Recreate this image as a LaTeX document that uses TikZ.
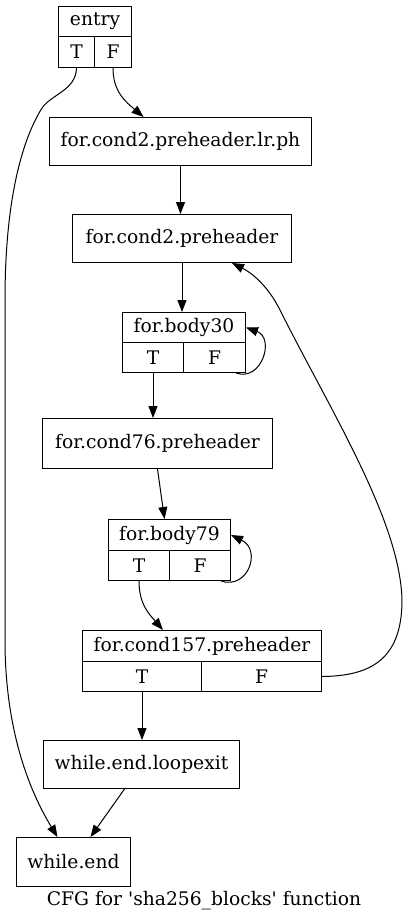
\documentclass[tikz,border=0pt]{standalone}
\usepackage{fontspec}
\setmainfont{DejaVu Serif}
\usetikzlibrary{arrows.meta,positioning}

\begin{document}
\begin{tikzpicture}[->,>={Triangle[length=12pt,width=9pt]},x=1pt,y=-1pt,line width=1pt,
		block/.style={draw,rectangle,inner sep=0pt,anchor=north west,font=\fontsize{18.7}{21}\selectfont,-},
		caption/.style={font=\fontsize{18.7}{21}\selectfont}]
		\useasboundingbox (0,0) rectangle (408,923);
		% blocks
		\node[block,minimum width=73pt,minimum height=30pt] (entry) at (58,6) {entry};
		\node[block,minimum width=36pt,minimum height=31pt] (entryT) at (58,36) {T};
		\node[block,minimum width=37pt,minimum height=31pt] (entryF) at (94,36) {F};
		\node[block,minimum width=262pt,minimum height=48pt] (lrph) at (49,117) {for.cond2.preheader.lr.ph};
		\node[block,minimum width=219pt,minimum height=48pt] (cond2) at (72,214) {for.cond2.preheader};
		\node[block,minimum width=123pt,minimum height=30pt] (body30) at (122,312) {for.body30};
		\node[block,minimum width=61pt,minimum height=30pt] (body30T) at (122,342) {T};
		\node[block,minimum width=62pt,minimum height=30pt] (body30F) at (183,342) {F};
		\node[block,minimum width=230pt,minimum height=50pt] (cond76) at (42,418) {for.cond76.preheader};
		\node[block,minimum width=122pt,minimum height=31pt] (body79) at (108,519) {for.body79};
		\node[block,minimum width=61pt,minimum height=30pt] (body79T) at (108,550) {T};
		\node[block,minimum width=61pt,minimum height=30pt] (body79F) at (169,550) {F};
		\node[block,minimum width=239pt,minimum height=31pt] (cond157) at (82,630) {for.cond157.preheader};
		\node[block,minimum width=119pt,minimum height=30pt] (cond157T) at (82,661) {T};
		\node[block,minimum width=120pt,minimum height=30pt] (cond157F) at (201,661) {F};
		\node[block,minimum width=196pt,minimum height=48pt] (loopexit) at (43,740) {while.end.loopexit};
		\node[block,minimum width=114pt,minimum height=49pt] (wend) at (16,837) {while.end};
		\node[caption] (title) at (204,901) {CFG for \textquotesingle sha256\_blocks\textquotesingle{} function};
		% edges
		\draw (entryT.south) .. controls (76,90) and (52,94) .. (42,108)
			.. controls (22,140) and (5,200) .. (5,300) -- (5,640)
			.. controls (5,740) and (35,800) .. ([xshift=-16pt]wend.north);
		\draw (entryF.south) .. controls (113,92) and (126,102) .. ([xshift=-37pt]lrph.north);
		\draw (lrph.south) -- (lrph.south |- cond2.north);
		\draw (cond2.south) -- (cond2.south |- body30.north);
		\draw ([xshift=-10pt]body30F.south east) .. controls (262,382) and (275,338) .. (body30.east);
		\draw (body30T.south) -- (body30T.south |- cond76.north);
		\draw (cond76.south) -- ([xshift=-5pt]body79.north);
		\draw ([xshift=-10pt]body79F.south east) .. controls (248,590) and (262,550) .. (body79.east);
		\draw (body79T.south) .. controls (139,605) and (150,615) .. ([xshift=-39pt]cond157.north);
		\draw (cond157T.south) -- (cond157T.south |- loopexit.north);
		\draw (cond157F.east) .. controls (370,676) and (402,660) .. (402,600)
			.. controls (400,520) and (330,410) .. (280,310)
			.. controls (268,286) and (252,273) .. ([xshift=-60pt]cond2.south east);
		\draw ([xshift=-17pt]loopexit.south) -- ([xshift=17pt]wend.north);
\end{tikzpicture}
\end{document}
